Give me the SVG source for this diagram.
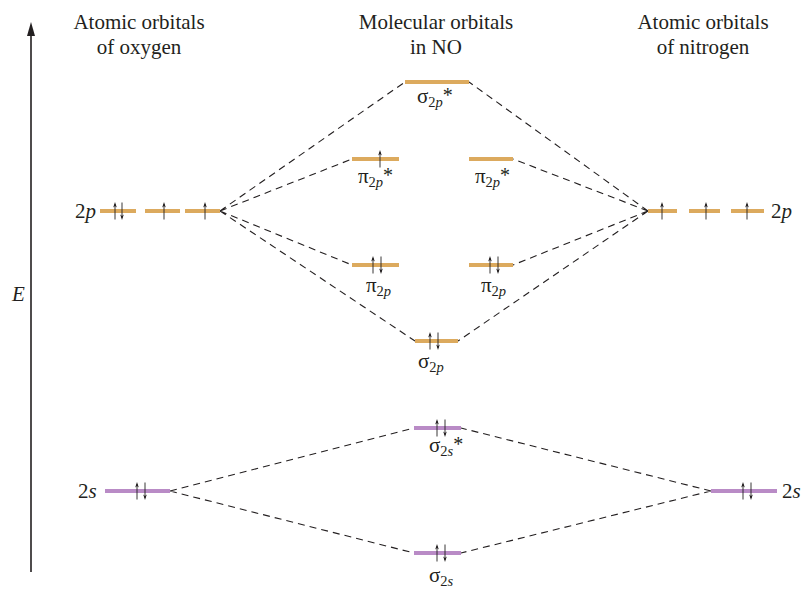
<svg xmlns="http://www.w3.org/2000/svg" width="801" height="590" viewBox="0 0 801 590">
<defs>
<g id="up"><path d="M0,8.5 V-7" stroke="#231f20" stroke-width="0.9" fill="none"/><path d="M-1.8,-3.5 L0,-9 L1.8,-3.5 L0,-5 Z" fill="#231f20"/></g>
<g id="dn"><path d="M0,-8.5 V7" stroke="#231f20" stroke-width="0.9" fill="none"/><path d="M-1.8,3.5 L0,9 L1.8,3.5 L0,5 Z" fill="#231f20"/></g>
<style>
text{font-family:"Liberation Serif","DejaVu Serif","Noto Serif",serif;font-size:21px;fill:#231f20}
.t{text-anchor:middle}
.ob{stroke:#DCAA5E;stroke-width:4}
.pb{stroke:#B98BC6;stroke-width:4}
.d{stroke:#231f20;stroke-width:1.1;stroke-dasharray:7,5;fill:none}
.s{font-size:14.5px}
.i{font-style:italic}
.a{font-size:20px}
</style>
</defs>
<rect width="801" height="590" fill="#fff"/>
<g font-family="Liberation Serif, DejaVu Serif, serif">
<g id="axis">
<line x1="31" y1="572" x2="31" y2="32" stroke="#231f20" stroke-width="1.6"/>
<path d="M27,36 L31,22 L35,36 Z" fill="#231f20"/>
<text x="12" y="301" class="i">E</text>
</g>
<g id="titles">
<text class="t" x="139" y="29">Atomic orbitals</text>
<text class="t" x="139" y="54">of oxygen</text>
<text class="t" x="436" y="29">Molecular orbitals</text>
<text class="t" x="436" y="54">in NO</text>
<text class="t" x="703" y="29">Atomic orbitals</text>
<text class="t" x="703" y="54">of nitrogen</text>
</g>
<g id="connectors">
<path class="d" d="M220,211 L405,82 M220,211 L352,159 M220,211 L352,265 M220,211 L415,341"/>
<path class="d" d="M648,211 L469,82 M648,211 L513,159 M648,211 L513,265 M648,211 L458,341"/>
<path class="d" d="M170,491 L414,428 M170,491 L414,553 M711,491 L461,428 M711,491 L461,553"/>
</g>
<g id="O-2p">
<text x="75" y="218">2<tspan class="i">p</tspan></text>
<line class="ob" x1="100" y1="211" x2="136" y2="211"/>
<line class="ob" x1="145" y1="211" x2="180" y2="211"/>
<line class="ob" x1="185" y1="211" x2="220" y2="211"/>
<use href="#up" x="115" y="211"/><use href="#dn" x="122" y="211"/>
<use href="#up" x="164" y="211"/>
<use href="#up" x="205" y="211"/>
</g>
<g id="N-2p">
<line class="ob" x1="648" y1="211" x2="677" y2="211"/>
<line class="ob" x1="689" y1="211" x2="720" y2="211"/>
<line class="ob" x1="731" y1="211" x2="764" y2="211"/>
<use href="#up" x="662" y="211"/>
<use href="#up" x="706" y="211"/>
<use href="#up" x="747" y="211"/>
<text x="771" y="218">2<tspan class="i">p</tspan></text>
</g>
<g id="sigma2p-star">
<line class="ob" x1="405" y1="82" x2="469" y2="82"/>
<text x="417" y="103">σ<tspan class="s" dy="4">2</tspan><tspan class="s i">p</tspan><tspan class="a" dy="-5">*</tspan></text>
</g>
<g id="pi2p-star-left">
<line class="ob" x1="352" y1="159" x2="399" y2="159"/>
<use href="#up" x="380" y="159"/>
<text x="358" y="183">π<tspan class="s" dy="4">2</tspan><tspan class="s i">p</tspan><tspan class="a" dy="-5">*</tspan></text>
</g>
<g id="pi2p-star-right">
<line class="ob" x1="469" y1="159" x2="513" y2="159"/>
<text x="475" y="183">π<tspan class="s" dy="4">2</tspan><tspan class="s i">p</tspan><tspan class="a" dy="-5">*</tspan></text>
</g>
<g id="pi2p-left">
<line class="ob" x1="352" y1="265" x2="399" y2="265"/>
<use href="#up" x="373" y="265"/><use href="#dn" x="381" y="265"/>
<text x="366" y="292">π<tspan class="s" dy="4">2</tspan><tspan class="s i">p</tspan></text>
</g>
<g id="pi2p-right">
<line class="ob" x1="469" y1="265" x2="513" y2="265"/>
<use href="#up" x="490" y="265"/><use href="#dn" x="498" y="265"/>
<text x="481" y="292">π<tspan class="s" dy="4">2</tspan><tspan class="s i">p</tspan></text>
</g>
<g id="sigma2p">
<line class="ob" x1="415" y1="341" x2="458" y2="341"/>
<use href="#up" x="430" y="341"/><use href="#dn" x="438" y="341"/>
<text x="418" y="368">σ<tspan class="s" dy="4">2</tspan><tspan class="s i">p</tspan></text>
</g>
<g id="O-2s">
<text x="78" y="498">2<tspan class="i">s</tspan></text>
<line class="pb" x1="105" y1="491" x2="170" y2="491"/>
<use href="#up" x="137" y="491"/><use href="#dn" x="145" y="491"/>
</g>
<g id="N-2s">
<line class="pb" x1="711" y1="491" x2="777" y2="491"/>
<use href="#up" x="743" y="491"/><use href="#dn" x="751" y="491"/>
<text x="782" y="498">2<tspan class="i">s</tspan></text>
</g>
<g id="sigma2s-star">
<line class="pb" x1="414" y1="428" x2="461" y2="428"/>
<use href="#up" x="437" y="428"/><use href="#dn" x="445" y="428"/>
<text x="429" y="452">σ<tspan class="s" dy="4">2</tspan><tspan class="s i">s</tspan><tspan class="a" dy="-5">*</tspan></text>
</g>
<g id="sigma2s">
<line class="pb" x1="414" y1="553" x2="461" y2="553"/>
<use href="#up" x="437" y="553"/><use href="#dn" x="445" y="553"/>
<text x="429" y="582">σ<tspan class="s" dy="4">2</tspan><tspan class="s i">s</tspan></text>
</g>
</g>
</svg>
